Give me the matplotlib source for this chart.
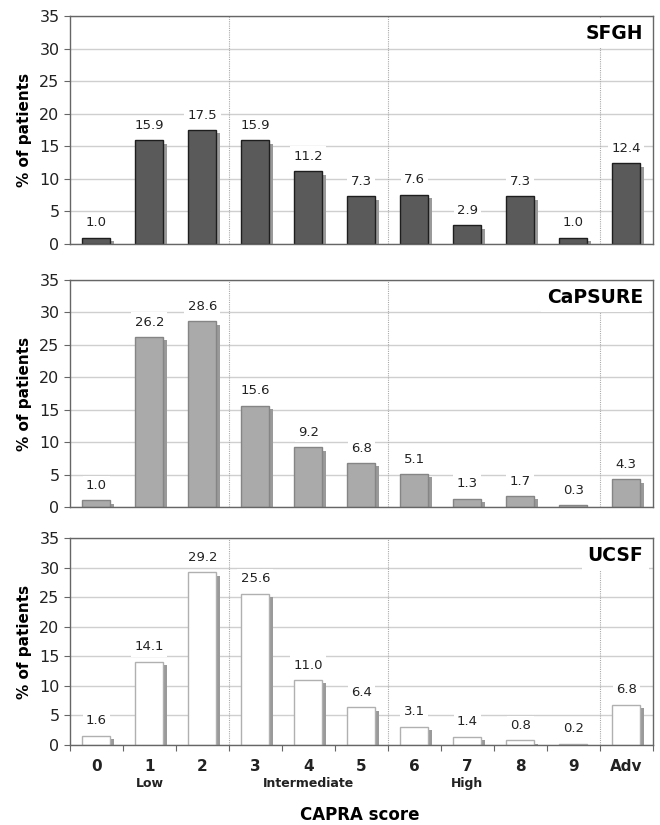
import matplotlib
matplotlib.use('Agg')
import matplotlib.pyplot as plt
import matplotlib.patheffects as pe
import numpy as np

plt.rcParams['font.family'] = ['DejaVu Sans']

# CAPRA 分数类别
categories = ['0', '1', '2', '3', '4', '5', '6', '7', '8', '9', 'Adv']
risk_groups = ['Low', 'Intermediate', 'High']
risk_pos = [1, 4, 7]

# 各队列患者百分比
sfgh = [1.0, 15.9, 17.5, 15.9, 11.2, 7.3, 7.6, 2.9, 7.3, 1.0, 12.4]
capsure = [1.0, 26.2, 28.6, 15.6, 9.2, 6.8, 5.1, 1.3, 1.7, 0.3, 4.3]
ucsf = [1.6, 14.1, 29.2, 25.6, 11.0, 6.4, 3.1, 1.4, 0.8, 0.2, 6.8]

panels = [
    ('SFGH', sfgh, '#5a5a5a', '#1e1e1e', [0.106, 0.7042, 0.883, 0.2764]),
    ('CaPSURE', capsure, '#aaaaaa', '#858585', [0.106, 0.3855, 0.883, 0.2752]),
    ('UCSF', ucsf, '#ffffff', '#b0b0b0', [0.106, 0.0970, 0.883, 0.2509]),
]

fig = plt.figure(figsize=(6.6, 8.25), dpi=100)
x = np.arange(len(categories))

for i, (name, vals, face, edge, rect) in enumerate(panels):
    ax = fig.add_axes(rect)
    ax.set_xlim(-0.5, len(categories) - 0.5)
    ax.set_ylim(0, 35)
    ax.set_yticks(range(0, 36, 5))
    ax.yaxis.grid(True, color='#cfcfcf', linewidth=1.0)
    ax.set_axisbelow(True)
    for b in [2.5, 5.5, 9.5]:
        ax.axvline(b, color='#aaaaaa', linestyle=(0, (1, 1)), linewidth=0.8, zorder=1)

    bars = ax.bar(x, vals, width=0.53, color=face, edgecolor=edge, linewidth=1.0, zorder=3)
    for bar in bars:
        bar.set_path_effects([pe.SimplePatchShadow(offset=(2.8, -2.5), shadow_rgbFace='#9a9a9a', alpha=1.0),
                              pe.Normal()])

    for xi, v in zip(x, vals):
        ax.annotate(f'{v:.1f}', (xi, v), xytext=(0, 6), textcoords='offset points',
                    ha='center', va='bottom', fontsize=9.5, color='#222222', zorder=5,
                    bbox=dict(boxstyle='square,pad=0.25', fc='white', ec='none'))

    ax.annotate(name, (1, 1), xycoords='axes fraction', xytext=(-7, -12.5),
                textcoords='offset points', ha='right', va='center',
                fontsize=13.5, fontweight='bold', zorder=6,
                bbox=dict(boxstyle='square,pad=0.3', fc='white', ec='none'))

    for s in ax.spines.values():
        s.set_color('#666666')
        s.set_linewidth(1.0)
        s.set_zorder(7)
    ax.tick_params(axis='y', labelsize=11.5, length=4, color='#666666', labelcolor='#222222')
    ax.set_ylabel('% of patients', fontsize=11, fontweight='bold', labelpad=5)

    if i < 2:
        ax.set_xticks([])
    else:
        ax.set_xticks(np.arange(-0.5, len(categories), 1.0))
        ax.set_xticklabels([])
        ax.tick_params(axis='x', length=4, color='#666666', direction='out')
        for xi, c in zip(x, categories):
            ax.text(xi, -0.105, c, transform=ax.get_xaxis_transform(), ha='center', va='center',
                    fontsize=11, fontweight='bold', color='#222222')
        for xi, g in zip(risk_pos, risk_groups):
            ax.text(xi, -0.185, g, transform=ax.get_xaxis_transform(), ha='center', va='center',
                    fontsize=9, fontweight='bold', color='#222222')

fig.text(0.545, 0.012, 'CAPRA score', ha='center', va='center', fontsize=12, fontweight='bold')

plt.savefig('out.png', dpi=100)
